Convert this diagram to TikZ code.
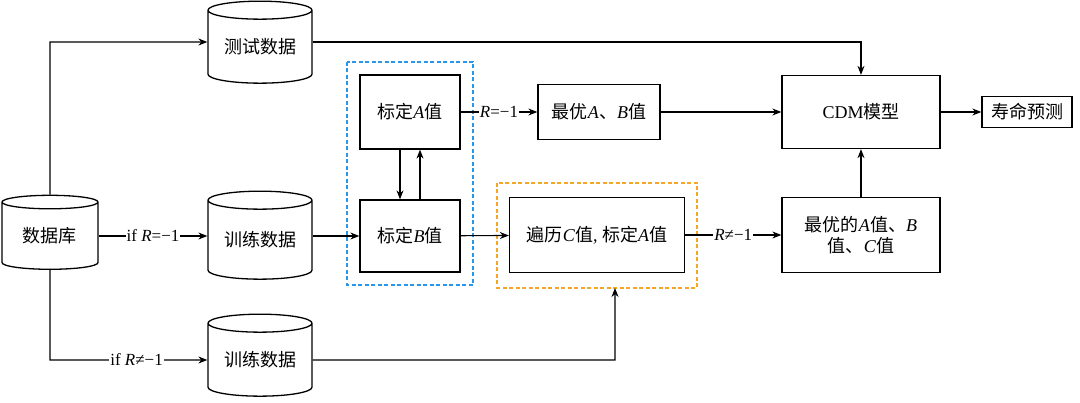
\documentclass[tikz,border=0pt]{standalone}
\usepackage{fontspec}
\setmainfont{Liberation Serif}
\newfontfamily\cjk{Noto Sans CJK SC}
\usetikzlibrary{shapes.geometric,arrows.meta}
\definecolor{bluedash}{RGB}{40,150,235}
\definecolor{orangedash}{RGB}{245,165,40}
\begin{document}
\begin{tikzpicture}[x=1pt,y=-1pt,
  every node/.style={font=\fontsize{18}{21}\selectfont},
  box/.style={draw,line width=1.3pt,minimum width=#1,inner sep=2pt,align=center},
  db/.style={draw,line width=1.3pt,cylinder,shape border rotate=90,aspect=0.25,minimum width=104pt,minimum height=82pt,inner sep=0pt},
  arr/.style={-{Stealth[length=9pt,width=7pt]},line width=1.1pt},
  lab/.style={fill=white,inner sep=1pt,font=\fontsize{17}{19}\selectfont},
  dashbox/.style={line width=1.4pt,dash pattern=on 4pt off 2.5pt}]
\useasboundingbox (0,0) rectangle (1080,403);
\fill[white] (0,0) rectangle (1080,403);
\node[db,minimum width=96pt,minimum height=74pt] (ku) at (50,236) {\cjk 数据库};
\node[db] (cs) at (260,47) {\cjk 测试数据};
\node[db,minimum height=88pt] (xl1) at (260,240) {\cjk 训练数据};
\node[db] (xl2) at (260,360) {\cjk 训练数据};
\draw[dashbox,draw=bluedash] (347,62) rectangle (473,285);
\draw[dashbox,draw=orangedash] (497,183) rectangle (697,288);
\node[box=100pt,minimum height=74pt] (A) at (410,112) {{\cjk 标定}\textit{A}{\cjk 值}};
\node[box=100pt,minimum height=72pt] (B) at (410,236) {{\cjk 标定}\textit{B}{\cjk 值}};
\node[box=175pt,minimum height=75pt] (C) at (597,235) {{\cjk 遍历}\textit{C}{\cjk 值}, {\cjk 标定}\textit{A}{\cjk 值}};
\node[box=122pt,minimum height=55pt] (AB) at (599,112) {{\cjk 最优}\textit{A}{\cjk 、}\textit{B}{\cjk 值}};
\node[box=158pt,minimum height=73pt] (cdm) at (861,112) {CDM{\cjk 模型}};
\node[box=90pt,minimum height=31pt] (sm) at (1027,112) {\cjk 寿命预测};
\node[box=158pt,minimum height=75pt] (ABC) at (861,235) {{\cjk 最优的}\textit{A}{\cjk 值、}\textit{B}\\{\cjk 值、}\textit{C}{\cjk 值}};
\coordinate (k1) at (50,42);
\coordinate (k2) at (861,42);
\coordinate (k3) at (50,360);
\coordinate (k4) at (615,360);
\draw[arr] (ku.north) -- (k1) -- (cs.west |- k1);
\draw[arr] (cs.east |- k2) -- (k2) -- (cdm.north);
\draw[arr] (ku.east) -- node[lab]{if \textit{R}=−1} (xl1.west |- ku.east);
\draw[arr] (ku.south) -- (k3) -- node[lab,pos=0.55]{if \textit{R}≠−1} (xl2.west);
\draw[arr] (xl1.east |- B) -- (B.west);
\draw[arr] (B) -- (C);
\draw[arr] (C) -- node[lab]{\textit{R}≠−1} (ABC);
\draw[arr] (ABC) -- (cdm);
\draw[arr] (A) -- node[lab]{\textit{R}=−1} (AB);
\draw[arr] (AB) -- (cdm);
\draw[arr] (cdm) -- (sm);
\draw[arr] (xl2.east) -- (k4) -- (615,288);
\draw[arr] ([xshift=-10pt]A.south) -- ([xshift=-10pt]B.north);
\draw[arr] ([xshift=10pt]B.north) -- ([xshift=10pt]A.south);
\end{tikzpicture}
\end{document}
